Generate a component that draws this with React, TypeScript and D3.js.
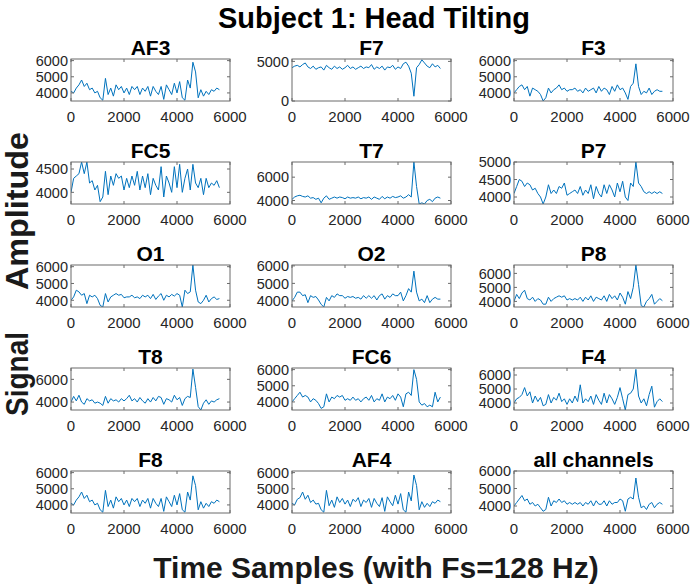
import React from 'react';
import * as d3 from 'd3';

const channels = ['AF3', 'F7', 'F3', 'FC5', 'T7', 'P7', 'O1', 'O2', 'P8', 'T8', 'FC6', 'F4', 'F8', 'AF4', 'all channels'];
const sampleTimes = d3.range(0, 5601, 100);
const xTicks = [0, 2000, 4000, 6000];

const yTicks = [
  [4000, 5000, 6000], [0, 5000], [4000, 5000, 6000],
  [4000, 4500], [4000, 6000], [4000, 4500, 5000],
  [4000, 5000, 6000], [4000, 5000, 6000], [4000, 5000, 6000],
  [4000, 6000], [4000, 5000, 6000], [4000, 5000, 6000],
  [4000, 5000, 6000], [4000, 5000, 6000], [4000, 5000, 6000],
];
const yDomains = [
  [3500, 6100], [0, 5300], [3500, 6100],
  [3750, 4650], [3700, 7300], [3800, 5000],
  [3600, 6100], [3650, 6050], [3600, 6600],
  [3300, 7000], [3500, 6100], [3500, 6500],
  [3500, 6100], [3500, 6100], [3600, 6000],
];

const AF3 = [4100, 4000, 4300, 4500, 4800, 4400, 4600, 4200, 4300, 4000, 4100, 3700, 3550, 4900, 3900, 4300, 3800, 4500, 4200, 4400, 4000, 4300, 3900, 4400, 4200, 4400, 3900, 4300, 4100, 4400, 3800, 4400, 4100, 3900, 4400, 3600, 4500, 4200, 3900, 4600, 4000, 4700, 3700, 3550, 4800, 4300, 5900, 5300, 3700, 4200, 3800, 4100, 3900, 4200, 4100, 4300, 4200];
const F7 = [4200, 4400, 4500, 4300, 4600, 4800, 4300, 4100, 4400, 4000, 4200, 4300, 3900, 4500, 4200, 4000, 4400, 4100, 4300, 4000, 4200, 4500, 4100, 4300, 4000, 4200, 4400, 4100, 4300, 4200, 4600, 4000, 4300, 4100, 4400, 3900, 4300, 4200, 4500, 4000, 4300, 4100, 4700, 4900, 4400, 3500, 600, 4200, 4600, 5200, 4800, 4400, 4200, 4700, 4300, 4500, 4100];
const F3 = [4000, 4200, 4400, 4500, 4200, 4400, 3800, 4300, 4200, 4100, 3900, 3500, 3700, 4300, 4000, 4200, 4300, 4500, 4200, 4300, 4100, 4200, 4200, 4300, 4100, 4200, 4000, 4300, 4100, 4200, 4300, 4000, 4400, 4100, 4300, 4200, 3900, 4400, 4100, 4500, 4200, 4300, 4000, 3600, 4400, 4600, 5800, 4400, 3900, 4100, 4000, 4300, 3900, 4100, 4200, 4100, 4100];
const FC5 = [4000, 4300, 4350, 4400, 4650, 4400, 4650, 4200, 4250, 4050, 4150, 3800, 3900, 4450, 3950, 4350, 4150, 4400, 4300, 4350, 4050, 4300, 4100, 4350, 4150, 4450, 4050, 4350, 4100, 4400, 3950, 4300, 4150, 4050, 4550, 3900, 4350, 4200, 4000, 4550, 4100, 4600, 4000, 4300, 4500, 4050, 4600, 4200, 4100, 4300, 3950, 4300, 4100, 4200, 4150, 4250, 4100];
const T7 = [4100, 4300, 4400, 4450, 4350, 4300, 4400, 4200, 4250, 4100, 4200, 3800, 4200, 4400, 4100, 4200, 4300, 4200, 4300, 4250, 4150, 4300, 4200, 4250, 4200, 4300, 4150, 4250, 4200, 4300, 4100, 4300, 4200, 4100, 4350, 4150, 4300, 4200, 4350, 4250, 4300, 4400, 4200, 4300, 4500, 4300, 7300, 5200, 3700, 3800, 3700, 4000, 4100, 3900, 4200, 4300, 4200];
const P7 = [4100, 4300, 4500, 4450, 4300, 4400, 4350, 4200, 4250, 4100, 4000, 3800, 4000, 4350, 4100, 4200, 4100, 4300, 4250, 4400, 4050, 4100, 4150, 4200, 4100, 4300, 4050, 4200, 4100, 4350, 3950, 4300, 4100, 4000, 4350, 4100, 4350, 4200, 4000, 4400, 4150, 4450, 4000, 3900, 4400, 4300, 5000, 4400, 4300, 4150, 4100, 4150, 4100, 4150, 4100, 4150, 4100];
const O1 = [4000, 4200, 4600, 4500, 4300, 4400, 3800, 4300, 4200, 4300, 4100, 3700, 3600, 4400, 3900, 4200, 4300, 4400, 4300, 4350, 4150, 4200, 4200, 4300, 4150, 4200, 4100, 4300, 4200, 4300, 4100, 4350, 4050, 4250, 4400, 4000, 4300, 4200, 4350, 4250, 4400, 4300, 3600, 4600, 4400, 4500, 6100, 4600, 3900, 3800, 4000, 4300, 3900, 4100, 4200, 4050, 4100];
const O2 = [4000, 4200, 4500, 4500, 4300, 4350, 3900, 4300, 4200, 4250, 4050, 3800, 3650, 4200, 4000, 4300, 4200, 4400, 4300, 4300, 4150, 4250, 4200, 4250, 4150, 4200, 4100, 4300, 4150, 4300, 4150, 4300, 4050, 4300, 4400, 4100, 4300, 4200, 4400, 4300, 4300, 4500, 4000, 4300, 4700, 4500, 5700, 4500, 4000, 4100, 3900, 4300, 3900, 4100, 4200, 4100, 4100];
const P8 = [4000, 4500, 4200, 4600, 4800, 4200, 4100, 4300, 4000, 4200, 4100, 3800, 3800, 4300, 4000, 4200, 4300, 4400, 4300, 4400, 4100, 4200, 4100, 4200, 4100, 4300, 4000, 4300, 4100, 4400, 4000, 4300, 4200, 4100, 4400, 4000, 4500, 4200, 4400, 4100, 4600, 4300, 3800, 4700, 4200, 5000, 6600, 5200, 3700, 3600, 4000, 4200, 4500, 3800, 4000, 4200, 4050];
const T8 = [4000, 4500, 4100, 4600, 4000, 3800, 4300, 4100, 4200, 3900, 4000, 3900, 3700, 4500, 3900, 4300, 4100, 4200, 4000, 4300, 4100, 4300, 4600, 4100, 4300, 4000, 4400, 4100, 3900, 4300, 4000, 4400, 4100, 4500, 4400, 3800, 4300, 4200, 4000, 4600, 4200, 4400, 3700, 4300, 4500, 4400, 6900, 5300, 3600, 3300, 3900, 4200, 3800, 4100, 4000, 4200, 4300];
const FC6 = [4000, 4200, 4400, 4600, 4300, 4400, 4300, 4000, 4200, 4100, 3900, 3600, 3700, 4500, 4000, 4300, 4200, 4400, 4300, 4400, 4100, 4200, 4100, 4300, 4100, 4200, 4000, 4200, 4300, 4100, 4400, 4000, 4200, 4100, 4500, 4000, 4300, 4200, 4400, 4100, 4500, 4300, 3700, 4500, 4600, 4400, 6000, 5400, 4000, 3800, 3900, 3700, 3800, 3700, 4600, 4000, 4300];
const F4 = [4000, 4300, 4400, 4600, 5100, 4500, 4800, 4000, 4500, 4100, 4400, 3800, 3900, 4600, 4000, 4400, 4200, 4700, 4100, 4300, 3900, 4300, 4000, 4500, 4100, 5300, 4000, 4300, 4100, 4500, 3900, 4600, 4200, 3900, 4700, 4000, 4600, 4300, 3900, 4400, 5100, 4300, 3500, 4600, 4700, 5000, 6400, 4500, 4000, 4300, 3800, 4600, 5200, 3700, 4100, 4300, 4100];
const F8 = [4100, 4000, 4300, 4500, 4800, 4400, 4600, 4200, 4300, 4000, 4100, 3700, 3550, 4900, 3900, 4300, 3800, 4500, 4200, 4400, 4000, 4300, 3900, 4400, 4200, 4400, 3900, 4300, 4100, 4400, 3800, 4400, 4100, 3900, 4400, 3600, 4500, 4200, 3900, 4600, 4000, 4700, 3700, 3550, 4800, 4300, 5800, 5200, 3700, 4200, 3800, 4100, 3900, 4200, 4100, 4300, 4200];
const AF4 = [4100, 4000, 4350, 4450, 4800, 4350, 4600, 4150, 4300, 4050, 4100, 3700, 3550, 4900, 3950, 4300, 3850, 4500, 4150, 4400, 4050, 4300, 3900, 4350, 4200, 4450, 3900, 4300, 4150, 4400, 3850, 4400, 4100, 3900, 4450, 3600, 4500, 4200, 3950, 4600, 4050, 4700, 3700, 3550, 4800, 4250, 5850, 5200, 3700, 4200, 3850, 4100, 3900, 4200, 4100, 4300, 4200];
const ALL = [4000, 4200, 4400, 4600, 4300, 4400, 4100, 4200, 4000, 4100, 3900, 3700, 3800, 4500, 4000, 4300, 4200, 4400, 4200, 4300, 4100, 4200, 4100, 4200, 4100, 4200, 4000, 4200, 4100, 4300, 4000, 4300, 4100, 4100, 4300, 4000, 4300, 4100, 4200, 4200, 4400, 4300, 3700, 4400, 4500, 4400, 5600, 4500, 3900, 4000, 3800, 4100, 4200, 3900, 4100, 4200, 4100];

const series = [AF3, F7, F3, FC5, T7, P7, O1, O2, P8, T8, FC6, F4, F8, AF4, ALL];

const W = 694;
const H = 585;
const colX = [71, 292, 514];
const boxW = 159;
const boxH = 42;
const rowY = [59, 162, 265, 368, 471];
const FONT = "'Liberation Sans', Arial, Helvetica, sans-serif";
const TICK = 3;

function Panel({ idx }: { idx: number }) {
  const col = idx % 3;
  const row = Math.floor(idx / 3);
  const x0 = colX[col];
  const y0 = rowY[row];
  const xs = d3.scaleLinear().domain([0, 6000]).range([0, boxW]);
  const ys = d3.scaleLinear().domain(yDomains[idx]).range([boxH, 0]);
  const vals = series[idx];
  const line = d3.line<number>()
    .x((_, i) => xs(sampleTimes[i]))
    .y((v) => ys(v));
  const clipId = `clip-${idx}`;
  return (
    <g transform={`translate(${x0},${y0})`}>
      <defs>
        <clipPath id={clipId}>
          <rect x={0} y={0} width={boxW} height={boxH} />
        </clipPath>
      </defs>
      <rect x={0} y={0} width={boxW} height={boxH} fill="#fff" />
      <path d={line(vals) || ''} fill="none" stroke="#0072BD" strokeWidth={1} clipPath={`url(#${clipId})`} />
      <rect x={0} y={0} width={boxW} height={boxH} fill="none" stroke="#6b6b6b" strokeWidth={1} />
      {xTicks.map((t) => (
        <g key={`x${t}`}>
          <line x1={xs(t)} x2={xs(t)} y1={boxH} y2={boxH - TICK} stroke="#6b6b6b" />
          <line x1={xs(t)} x2={xs(t)} y1={0} y2={TICK} stroke="#6b6b6b" />
          <text x={xs(t)} y={boxH + 21} textAnchor="middle" fontSize={15} fontFamily={FONT} fill="#262626">{t}</text>
        </g>
      ))}
      {yTicks[idx].map((t) => (
        <g key={`y${t}`}>
          <line x1={0} x2={TICK} y1={ys(t)} y2={ys(t)} stroke="#6b6b6b" />
          <line x1={boxW} x2={boxW - TICK} y1={ys(t)} y2={ys(t)} stroke="#6b6b6b" />
          <text x={-3} y={ys(t)} dy="0.36em" textAnchor="end" fontSize={14.5} fontFamily={FONT} fill="#262626">{t}</text>
        </g>
      ))}
      <text x={boxW / 2} y={-4} textAnchor="middle" fontSize={21} fontWeight="bold" fontFamily={FONT} fill="#000">{channels[idx]}</text>
    </g>
  );
}

export default function App() {
  return (
    <svg width={W} height={H} style={{ position: 'absolute', left: 0, top: 0, background: '#fff' }}>
      <rect x={0} y={0} width={W} height={H} fill="#fff" />
      <text x={374} y={28} textAnchor="middle" fontSize={29} fontWeight="bold" fontFamily={FONT} fill="#000">Subject 1: Head Tilting</text>
      {channels.map((_, i) => <Panel key={i} idx={i} />)}
      <text x={376} y={578} textAnchor="middle" fontSize={30} fontWeight="bold" fontFamily={FONT} fill="#1a1a1a">Time Samples (with Fs=128 Hz)</text>
      <text transform="rotate(-90)" fontSize={31} fontWeight="bold" fontFamily={FONT} fill="#1a1a1a">
        <tspan x={-416} y={28} textLength={84} lengthAdjust="spacingAndGlyphs">Signal</tspan>
        <tspan x={-290} y={28} textLength={158} lengthAdjust="spacingAndGlyphs">Amplitude</tspan>
      </text>
    </svg>
  );
}
